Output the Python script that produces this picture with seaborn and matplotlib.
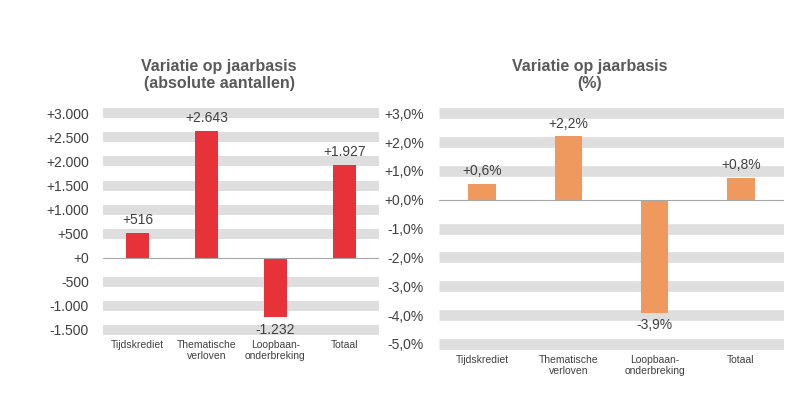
import matplotlib
matplotlib.use("Agg")
import matplotlib.pyplot as plt
import seaborn as sns
import pandas as pd

sns.set_theme(style="white")
plt.rcParams['font.family'] = ['Liberation Sans', 'DejaVu Sans']

categories = ["Tijdskrediet", "Thematische\nverloven", "Loopbaan-\nonderbreking", "Totaal"]
abs_values = [516, 2643, -1232, 1927]
pct_values = [0.56, 2.2, -3.91, 0.76]
abs_ticks = [-1500, -1000, -500, 0, 500, 1000, 1500, 2000, 2500, 3000]
pct_ticks = [-5, -4, -3, -2, -1, 0, 1, 2, 3]
title_left = "Variatie op jaarbasis\n(absolute aantallen)"
title_right = "Variatie op jaarbasis\n(%)"

RED = "#E8323A"
ORANGE = "#F0995E"
GRID = "#DEDEDE"
TXT = "#404040"


def fmt_abs(v):
    s = f"{abs(v):,.0f}".replace(",", ".")
    return ("+" if v >= 0 else "-") + s


def fmt_pct(v):
    s = f"{abs(v):.1f}".replace(".", ",")
    return ("+" if v >= 0 else "-") + s + "%"


fig = plt.figure(figsize=(8.06, 3.97), dpi=100)
axL = fig.add_axes([0.1278, 0.1537, 0.3424, 0.576])
axR = fig.add_axes([0.5447, 0.1154, 0.428, 0.6173])


def draw(ax, vals, ticks, color, fmt, step, bandlw, pad_lbl):
    df = pd.DataFrame({"cat": categories, "val": vals})
    for t in ticks:
        if t == 0:
            continue
        ax.axhline(t, color=GRID, lw=bandlw, zorder=0, solid_capstyle="butt")
    sns.barplot(data=df, x="cat", y="val", color=color, width=0.32,
                saturation=1, ax=ax, zorder=3, linewidth=0, edgecolor="none")
    ax.axhline(0, color="#A6A6A6", lw=0.8, zorder=4)
    ax.set_xlim(-0.5, len(categories) - 0.5)
    ax.set_ylim(ticks[0] - step * 0.25, ticks[-1] + step * 0.25)
    ax.set_yticks(ticks)
    ax.set_yticklabels([fmt(t) for t in ticks], fontsize=10, color=TXT)
    ax.tick_params(axis="y", length=0, pad=pad_lbl)
    ax.tick_params(axis="x", length=0, pad=3)
    ax.set_xticks(range(len(categories)))
    ax.set_xticklabels(categories, fontsize=7.5, color=TXT, linespacing=1.1)
    ax.set_xlabel("")
    ax.set_ylabel("")
    for s in ax.spines.values():
        s.set_visible(False)
    ax.bar_label(ax.containers[0], labels=[fmt(v) for v in vals],
                 padding=4, fontsize=10, color=TXT)


draw(axL, abs_values, abs_ticks, RED, fmt_abs, 500, 7.2, 10)
draw(axR, pct_values, pct_ticks, ORANGE, fmt_pct, 1, 7.7, 11)

fig.text(219 / 806, 1 - 75 / 397, title_left, ha="center", va="center",
         fontsize=11.5, fontweight="bold", color="#595959", linespacing=1.15)
fig.text(590 / 806, 1 - 75 / 397, title_right, ha="center", va="center",
         fontsize=11.5, fontweight="bold", color="#595959", linespacing=1.15)

fig.savefig("out.png", dpi=100, facecolor="white")
